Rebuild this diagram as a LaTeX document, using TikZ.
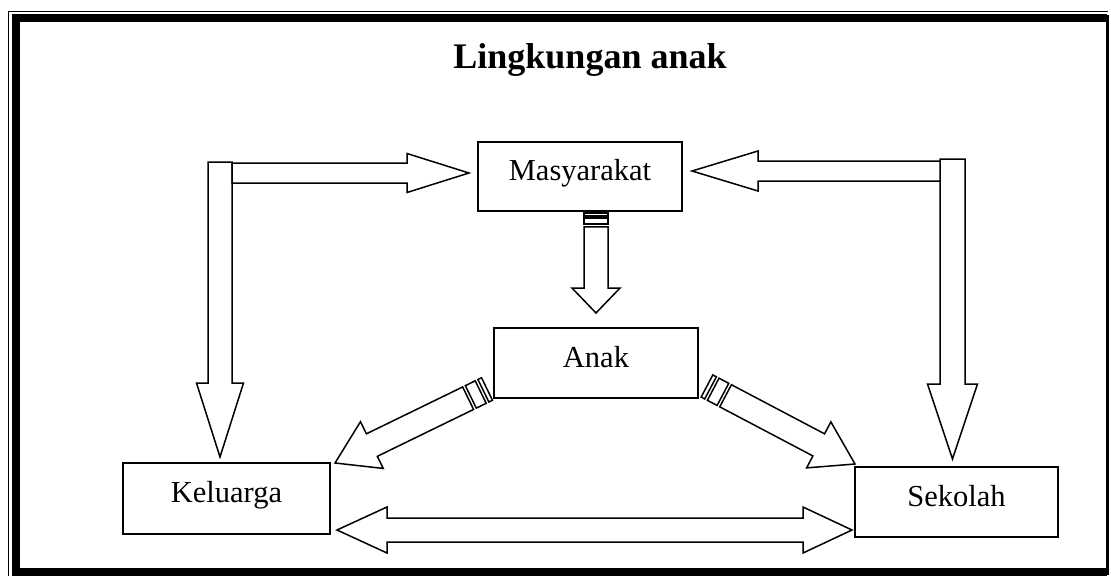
\documentclass[tikz,border=0pt]{standalone}
\usepackage{fontspec}
\setmainfont{Liberation Serif}
\usetikzlibrary{calc}
\tikzset{
  box/.style={draw, line width=1.6pt, inner sep=0pt, text height=20pt, text depth=12pt,
    font=\fontsize{30.5}{36}\selectfont},
  arr/.style={draw, line width=1.5pt, fill=white, line join=miter},
  frameline/.style={draw, line cap=rect},
}
% block arrow: #1 tail, #2 tip, #3 shaft start, #4 half shaft, #5 half head, #6 head length
\newcommand\barrow[6]{%
  \draw[arr] ($(#1)!#3!(#2)!#4!90:(#2)$) -- ($(#2)!#6!(#1)!#4!-90:(#1)$)
    -- ($(#2)!#6!(#1)!#5!-90:(#1)$) -- (#2) -- ($(#2)!#6!(#1)!#5!90:(#1)$)
    -- ($(#2)!#6!(#1)!#4!90:(#1)$) -- ($(#1)!#3!(#2)!#4!-90:(#2)$) -- cycle;}
% stripe at tail: #1 tail, #2 tip, #3 from, #4 to, #5 half width
\newcommand\tailstripe[5]{%
  \draw[arr] ($(#1)!#3!(#2)!#5!90:(#2)$) -- ($(#1)!#4!(#2)!#5!90:(#2)$)
    -- ($(#1)!#4!(#2)!#5!-90:(#2)$) -- ($(#1)!#3!(#2)!#5!-90:(#2)$) -- cycle;}
\begin{document}
\begin{tikzpicture}[x=1pt,y=-1pt]
\useasboundingbox (0,0) rectangle (1111,576);
% frame
\draw[line width=8pt] (1107,18) -- (15.5,18) -- (15.5,572) -- (1107,572);
\draw[line width=3pt] (1107,15) -- (1107,575);
\draw[line width=1pt] (8,11) -- (1108,11);
\draw[line width=1pt] (8,11) -- (8,576);

% title
\node[font=\bfseries\fontsize{36}{40}\selectfont, anchor=base] (title) at (590,68) {Lingkungan anak};

% boxes
\node[box, minimum width=204pt, minimum height=69pt] (mas) at (580,176.5) {Masyarakat};
\node[box, minimum width=204pt, minimum height=70pt] (anak) at (596,363) {Anak};
\node[box, minimum width=207pt, minimum height=71pt] (kel) at (226.5,498.5) {Keluarga};
\node[box, minimum width=203pt, minimum height=70pt] (sek) at (956.5,502) {Sekolah};

% coordinates for arrows
\coordinate (lvT) at (220,162);   \coordinate (lvP) at (220,457);
\coordinate (lhT) at (232,173);   \coordinate (lhP) at (469,173);
\coordinate (rvT) at (952.5,159); \coordinate (rvP) at (952.5,459);
\coordinate (rhT) at (940,171);   \coordinate (rhP) at (692,171);
\coordinate (mdT) at ($(mas.south)+(16,1)$); \coordinate (mdP) at (596,313);
\coordinate (dlT) at (487,389);   \coordinate (dlP) at (335,463);
\coordinate (drT) at (707,386);   \coordinate (drP) at (855,464);
\coordinate (bL) at (337,530);    \coordinate (bR) at (852,530);

% Keluarga <-> Masyarakat
\barrow{lvT}{lvP}{0pt}{12pt}{23.5pt}{74pt}
\barrow{lhT}{lhP}{0pt}{10pt}{19.5pt}{62pt}
% Sekolah <-> Masyarakat
\barrow{rvT}{rvP}{0pt}{12.5pt}{25pt}{75pt}
\barrow{rhT}{rhP}{0pt}{10pt}{20pt}{66pt}
% Masyarakat -> Anak
\tailstripe{mdT}{mdP}{0pt}{3pt}{12pt}
\tailstripe{mdT}{mdP}{5pt}{11pt}{12pt}
\barrow{mdT}{mdP}{14pt}{12pt}{24pt}{25pt}
% Anak -> Keluarga
\tailstripe{dlT}{dlP}{0pt}{4pt}{12.5pt}
\tailstripe{dlT}{dlP}{7pt}{18pt}{12.5pt}
\barrow{dlT}{dlP}{21pt}{12.5pt}{26pt}{41pt}
% Anak -> Sekolah
\tailstripe{drT}{drP}{0pt}{4pt}{12.5pt}
\tailstripe{drT}{drP}{7pt}{18pt}{12.5pt}
\barrow{drT}{drP}{21pt}{12.5pt}{26pt}{41pt}
% Keluarga <-> Sekolah
\draw[arr] (bL) -- ($(bL)!50pt!(bR)!23pt!90:(bR)$) -- ($(bL)!50pt!(bR)!12pt!90:(bR)$)
  -- ($(bR)!49pt!(bL)!12pt!-90:(bL)$) -- ($(bR)!49pt!(bL)!23pt!-90:(bL)$) -- (bR)
  -- ($(bR)!49pt!(bL)!23pt!90:(bL)$) -- ($(bR)!49pt!(bL)!12pt!90:(bL)$)
  -- ($(bL)!50pt!(bR)!12pt!-90:(bR)$) -- ($(bL)!50pt!(bR)!23pt!-90:(bR)$) -- cycle;
\end{tikzpicture}
\end{document}
